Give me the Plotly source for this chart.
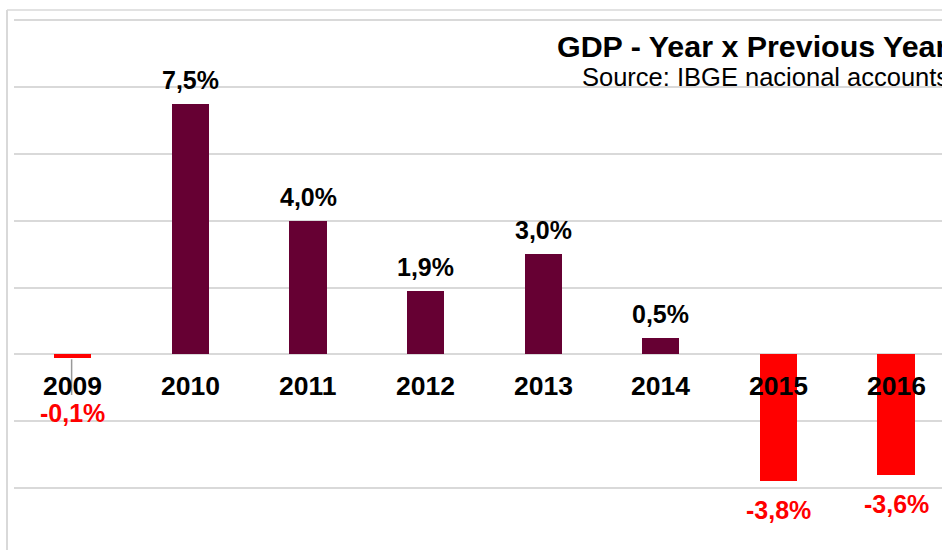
import plotly.graph_objects as go

years = [2009, 2010, 2011, 2012, 2013, 2014, 2015, 2016]
growth = [-0.1, 7.5, 4.0, 1.9, 3.0, 0.5, -3.8, -3.6]
labels = ["-0,1%", "7,5%", "4,0%", "1,9%", "3,0%", "0,5%", "-3,8%", "-3,6%"]

POS_COLOR = "#660033"
NEG_COLOR = "#FF0000"
FONT = "Arial, Liberation Sans, sans-serif"

W, H = 942, 550
ML, MT = 14, 19
PX_PER_UNIT = 33.4
ZERO_PX = 354.3
y_top = (ZERO_PX - MT) / PX_PER_UNIT
y_bot = -(H - ZERO_PX) / PX_PER_UNIT
CAT_W = 117.6
x_min = years[0] - 0.5
x_max = x_min + (W - ML) / CAT_W

colors = [POS_COLOR if v >= 0 else NEG_COLOR for v in growth]

fig = go.Figure()
fig.add_trace(go.Bar(
    x=years, y=growth, marker=dict(color=colors, line=dict(width=0)),
    width=0.315, hoverinfo="skip", showlegend=False,
))

annotations = []
for i, (yr, v, lab) in enumerate(zip(years, growth, labels)):
    annotations.append(dict(x=yr, y=0, xref="x", yref="y", text="<b>%d</b>" % yr,
                            showarrow=False, yanchor="middle", yshift=-32,
                            font=dict(family=FONT, size=26.5, color="black")))
    if v >= 0:
        annotations.append(dict(x=yr, y=v, xref="x", yref="y", text="<b>%s</b>" % lab,
                                showarrow=False, yanchor="bottom", yshift=8,
                                font=dict(family=FONT, size=25, color="black")))
    else:
        shift = -39 if i == 0 else -13
        annotations.append(dict(x=yr, y=v, xref="x", yref="y", text="<b>%s</b>" % lab,
                                showarrow=False, yanchor="top", yshift=shift,
                                font=dict(family=FONT, size=25, color=NEG_COLOR)))

plot_w = W - ML
plot_h = H - MT
def px_to_paper_x(px):
    return (px - ML) / plot_w
def px_to_paper_y(py):
    return (H - py) / plot_h

annotations.append(dict(x=px_to_paper_x(555), y=px_to_paper_y(46), xref="paper", yref="paper",
                        text="<b>GDP - Year x Previous Year</b>", showarrow=False,
                        xanchor="left", yanchor="middle",
                        font=dict(family=FONT, size=30.4, color="black")))
annotations.append(dict(x=px_to_paper_x(580), y=px_to_paper_y(77), xref="paper", yref="paper",
                        text="Source: IBGE nacional accounts", showarrow=False,
                        xanchor="left", yanchor="middle",
                        font=dict(family=FONT, size=25.5, color="black")))

shapes = [
    dict(type="line", xref="paper", yref="paper", x0=px_to_paper_x(7), x1=px_to_paper_x(7),
         y0=px_to_paper_y(10), y1=px_to_paper_y(H + 5), line=dict(color="#d9d9d9", width=2),
         layer="below"),
    dict(type="line", xref="paper", yref="paper", x0=px_to_paper_x(7), x1=px_to_paper_x(W + 5),
         y0=px_to_paper_y(10), y1=px_to_paper_y(10), line=dict(color="#d9d9d9", width=1.5),
         layer="below"),
    dict(type="line", xref="x", yref="y", x0=years[0] - 0.01, x1=years[0] - 0.01,
         y0=growth[0] - 0.05, y1=-(395 - ZERO_PX) / PX_PER_UNIT,
         line=dict(color="#999999", width=1.5), layer="above"),
]

fig.update_layout(
    width=W, height=H,
    margin=dict(l=ML, r=0, t=MT, b=0, pad=0),
    paper_bgcolor="white", plot_bgcolor="white",
    xaxis=dict(range=[x_min, x_max], showticklabels=False,
               showgrid=False, zeroline=False, showline=False, ticks=""),
    yaxis=dict(range=[y_bot, y_top], dtick=2, tick0=0, showticklabels=False,
               showgrid=True, gridcolor="#d9d9d9", gridwidth=1.5,
               zeroline=True, zerolinecolor="#d9d9d9", zerolinewidth=1.5,
               showline=False, ticks=""),
    annotations=annotations, shapes=shapes,
    bargap=0,
)

fig.write_html("out.html", config={"displayModeBar": False})
